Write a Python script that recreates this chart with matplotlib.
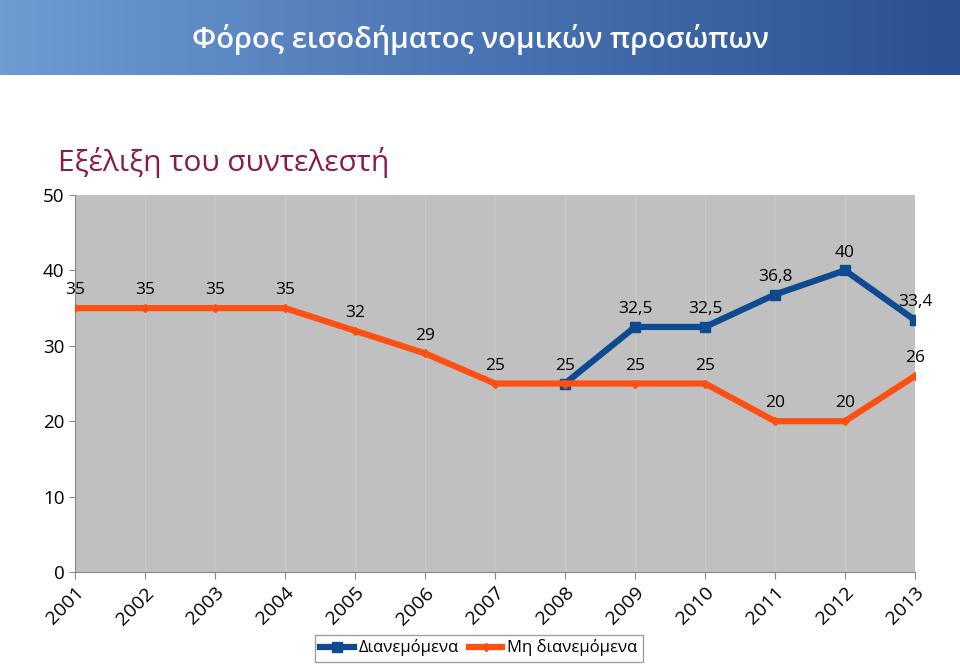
import matplotlib.pyplot as plt
import numpy as np
from matplotlib.colors import LinearSegmentedColormap

# data
years = ['2001', '2002', '2003', '2004', '2005', '2006', '2007',
         '2008', '2009', '2010', '2011', '2012', '2013']
dianemomena = [np.nan, np.nan, np.nan, np.nan, np.nan, np.nan, np.nan,
               25, 32.5, 32.5, 36.8, 40, 33.4]
mi_dianemomena = [35, 35, 35, 35, 32, 29, 25, 25, 25, 25, 20, 20, 26]

blue = '#0d4a8f'
orange = '#ff5014'

plt.rcParams['font.family'] = ['Open Sans', 'DejaVu Sans']

fig = plt.figure(figsize=(9.6, 6.66), dpi=100)

# title banner with gradient
banner = fig.add_axes([0, 1 - 75 / 666, 1, 75 / 666])
grad = np.linspace(0, 1, 256).reshape(1, -1)
cmap = LinearSegmentedColormap.from_list('b', ['#6e9bd2', '#4a74b3', '#2b5092'])
banner.imshow(grad, aspect='auto', cmap=cmap, extent=[0, 1, 0, 1])
banner.set_axis_off()
banner.text(0.5, 0.47, 'Φόρος εισοδήματος νομικών προσώπων', color='white',
            fontsize=21, ha='center', va='center', fontweight='semibold',
            transform=banner.transAxes)

fig.text(58 / 960, 1 - 163 / 666, 'Εξέλιξη του συντελεστή', color='#8b1a4b',
         fontsize=21.5, ha='left', va='center')

ax = fig.add_axes([75 / 960, 94 / 666, 840 / 960, 377 / 666])
ax.set_facecolor('#c0c0c0')
x = np.arange(len(years))

ax.plot(x, dianemomena, color=blue, lw=4.5, marker='s', ms=7, label='Διανεμόμενα', zorder=3)
ax.plot(x, mi_dianemomena, color=orange, lw=4.5, marker='D', ms=4, label='Μη διανεμόμενα', zorder=4)


def fmt(v):
    return ('%g' % v).replace('.', ',')


for i, v in enumerate(mi_dianemomena):
    ax.annotate(fmt(v), (i, v), xytext=(0, 7), textcoords='offset points',
                ha='center', va='bottom', fontsize=12.5, zorder=5)
for i, v in enumerate(dianemomena):
    if np.isnan(v) or i == 7:
        continue
    ax.annotate(fmt(v), (i, v), xytext=(0, 7), textcoords='offset points',
                ha='center', va='bottom', fontsize=12.5, zorder=5)

ax.set_xlim(0, 12)
ax.set_ylim(0, 50)
ax.set_yticks(range(0, 51, 10))
ax.set_xticks(x)
ax.set_xticklabels(years, rotation=45, ha='right', rotation_mode='anchor', fontsize=14)
ax.tick_params(axis='y', labelsize=13.5, length=4, color='#888888')
ax.tick_params(axis='x', length=5, color='#888888')
ax.grid(axis='x', color='#c9c9c9', lw=1)
ax.set_axisbelow(True)
for s in ['top', 'right']:
    ax.spines[s].set_visible(False)
for s in ['left', 'bottom']:
    ax.spines[s].set_color('#888888')

leg = fig.legend(loc='center', bbox_to_anchor=(479 / 960, 1 - 648 / 666), ncol=2,
                 fontsize=12, frameon=True, fancybox=False, edgecolor='#888888',
                 handlelength=2.0, columnspacing=0.6, handletextpad=0.3,
                 borderpad=0.3)

fig.savefig('out.png', dpi=100)
